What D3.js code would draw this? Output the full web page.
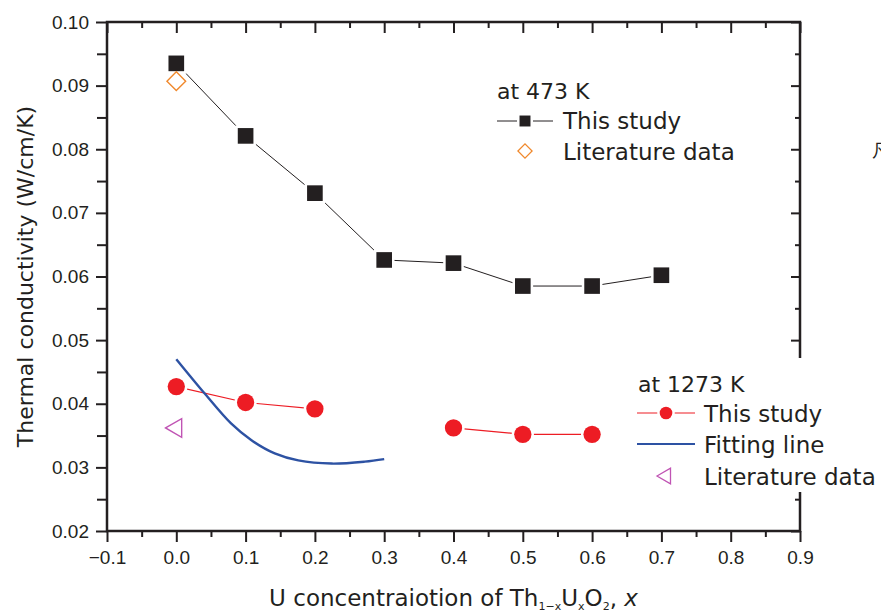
<!DOCTYPE html>
<html>
<head>
<meta charset="utf-8">
<script src="https://cdn.jsdelivr.net/npm/d3@7"></script>
<style>
  body { margin: 0; background: #fff; overflow: hidden; }
  svg { display: block; }
  .tick text { font-family: "Liberation Sans", Arial, sans-serif; font-size: 19px; fill: #231f20; }
  .lbl { font-family: "DejaVu Sans", sans-serif; fill: #231f20; }
</style>
</head>
<body>
<svg width="881" height="613"></svg>
<script>
// 473 K, this study
var x473 = [0, 0.1, 0.2, 0.3, 0.4, 0.5, 0.6, 0.7];
var k473 = [0.0935, 0.0821, 0.0731, 0.0626, 0.0621, 0.0585, 0.0585, 0.0602];
// 473 K, literature
var litX473 = [0];
var litK473 = [0.0907];
// 1273 K, this study (no point at 0.3)
var x1273 = [0, 0.1, 0.2, 0.3, 0.4, 0.5, 0.6];
var k1273 = [0.0427, 0.0402, 0.0392, null, 0.0362, 0.0352, 0.0352];
// 1273 K fitting line
var fitX = [0, 0.041, 0.079, 0.108, 0.142, 0.176, 0.224, 0.272, 0.3];
var fitK = [0.0470, 0.0416, 0.0369, 0.0343, 0.0322, 0.0311, 0.0306, 0.0309, 0.0313];
// 1273 K, literature
var litX1273 = [0];
var litK1273 = [0.0362];

var xTicks = [-0.1, 0, 0.1, 0.2, 0.3, 0.4, 0.5, 0.6, 0.7, 0.8, 0.9];
var yTicks = [0.02, 0.03, 0.04, 0.05, 0.06, 0.07, 0.08, 0.09, 0.10];

var ink = "#231f20",
    red = "#ed1c24",
    orange = "#f0892d",
    blue = "#2d52a3",
    magenta = "#c054b4";

var svg = d3.select("svg");
var plotL = 107, plotR = 800, plotT = 22, plotB = 531;

var x = d3.scaleLinear().domain([-0.1, 0.9]).range([plotL, plotR]);
var y = d3.scaleLinear().domain([0.02, 0.10]).range([plotB, plotT]);

var xMinor = d3.range(-0.05, 0.9, 0.1);
var yMinor = d3.range(0.025, 0.1, 0.01);

function styleAxis(g) {
    g.select(".domain").remove();
    g.selectAll(".tick line").attr("stroke", ink).attr("stroke-width", 2);
}

// bottom axis
svg.append("g").attr("transform", "translate(0," + plotB + ")")
    .call(d3.axisBottom(x).tickValues(xTicks).tickSize(11).tickPadding(9)
        .tickFormat(function (d) { return d3.format(".1f")(d).replace("-", "\u2212"); }))
    .call(styleAxis);
svg.append("g").attr("transform", "translate(0," + plotB + ")")
    .call(d3.axisBottom(x).tickValues(xMinor).tickSize(6).tickFormat(""))
    .call(styleAxis);

// top axis, ticks inward
svg.append("g").attr("transform", "translate(0," + plotT + ")")
    .call(d3.axisBottom(x).tickValues(xTicks).tickSize(11).tickFormat(""))
    .call(styleAxis);
svg.append("g").attr("transform", "translate(0," + plotT + ")")
    .call(d3.axisBottom(x).tickValues(xMinor).tickSize(6).tickFormat(""))
    .call(styleAxis);

// left axis
svg.append("g").attr("transform", "translate(" + plotL + ",0)")
    .call(d3.axisLeft(y).tickValues(yTicks).tickSize(11).tickPadding(7).tickFormat(d3.format(".2f")))
    .call(styleAxis);
svg.append("g").attr("transform", "translate(" + plotL + ",0)")
    .call(d3.axisLeft(y).tickValues(yMinor).tickSize(10).tickFormat(""))
    .call(styleAxis);

// right axis, ticks inward
svg.append("g").attr("transform", "translate(" + plotR + ",0)")
    .call(d3.axisLeft(y).tickValues(yTicks).tickSize(9).tickFormat(""))
    .call(styleAxis);
svg.append("g").attr("transform", "translate(" + plotR + ",0)")
    .call(d3.axisLeft(y).tickValues(yMinor).tickSize(5).tickFormat(""))
    .call(styleAxis);

// frame
svg.append("rect")
    .attr("x", plotL).attr("y", plotT)
    .attr("width", plotR - plotL).attr("height", plotB - plotT)
    .attr("fill", "none").attr("stroke", ink).attr("stroke-width", 2.5);

// axis titles
svg.append("text").attr("class", "lbl")
    .attr("transform", "translate(33," + (plotT + plotB) / 2 + ") rotate(-90)")
    .attr("text-anchor", "middle").attr("font-size", 22)
    .text("Thermal conductivity (W/cm/K)");

var xt = svg.append("text").attr("class", "lbl")
    .attr("x", (plotL + plotR) / 2).attr("y", 606)
    .attr("text-anchor", "middle").attr("font-size", 23);
xt.append("tspan").text("U concentraiotion of Th");
xt.append("tspan").attr("font-size", 11).attr("dy", 4).text("1\u2212x");
xt.append("tspan").attr("dy", -4).text("U");
xt.append("tspan").attr("font-size", 11).attr("dy", 4).text("x");
xt.append("tspan").attr("dy", -4).text("O");
xt.append("tspan").attr("font-size", 11).attr("dy", 4).text("2");
xt.append("tspan").attr("dy", -4).text(", ");
xt.append("tspan").attr("font-style", "italic").text("x");

// markers
function marker(type, size, rot) {
    return function (sel) {
        sel.attr("d", d3.symbol().type(type).size(size)())
            .attr("transform", function (d) {
                return "translate(" + x(d.x) + "," + y(d.k) + ")" + (rot ? " rotate(" + rot + ")" : "");
            });
    };
}
function zip(xs, ks) {
    return xs.map(function (v, i) { return { x: v, k: ks[i] }; });
}

var line = d3.line()
    .defined(function (d) { return d.k != null; })
    .x(function (d) { return x(d.x); })
    .y(function (d) { return y(d.k); });

var d473 = zip(x473, k473),
    d1273 = zip(x1273, k1273);

svg.append("path").datum(d473).attr("d", line)
    .attr("fill", "none").attr("stroke", ink).attr("stroke-width", 1);
svg.append("path").datum(d1273).attr("d", line)
    .attr("fill", "none").attr("stroke", red).attr("stroke-width", 1.2);

svg.append("path").datum(zip(fitX, fitK))
    .attr("d", line.curve(d3.curveCatmullRom))
    .attr("fill", "none").attr("stroke", blue).attr("stroke-width", 2.4);
line.curve(d3.curveLinear);

svg.selectAll(".sq").data(d473).enter().append("path")
    .call(marker(d3.symbolSquare, 245))
    .attr("fill", ink).attr("stroke", "#fff").attr("stroke-width", 5)
    .style("paint-order", "stroke");

svg.selectAll(".dot").data(d1273.filter(function (d) { return d.k != null; })).enter().append("path")
    .call(marker(d3.symbolCircle, 235))
    .attr("fill", red).attr("stroke", "#fff").attr("stroke-width", 5)
    .style("paint-order", "stroke");

svg.selectAll(".dia").data(zip(litX473, litK473)).enter().append("path")
    .call(marker(d3.symbolSquare, 175, 45))
    .attr("fill", "none").attr("stroke", orange).attr("stroke-width", 1.4);

svg.selectAll(".tri").data(zip(litX1273, litK1273)).enter().append("path")
    .call(marker(d3.symbolTriangle, 150, -90))
    .attr("fill", "none").attr("stroke", magenta).attr("stroke-width", 1.4);

// legend, 473 K
var lg1 = svg.append("g");
lg1.append("text").attr("class", "lbl").attr("x", 497).attr("y", 99).attr("font-size", 22).text("at 473 K");
lg1.append("line").attr("x1", 497).attr("x2", 553).attr("y1", 121).attr("y2", 121)
    .attr("stroke", ink).attr("stroke-width", 1);
lg1.append("path").attr("d", d3.symbol().type(d3.symbolSquare).size(120)())
    .attr("transform", "translate(525,121)")
    .attr("fill", ink).attr("stroke", "#fff").attr("stroke-width", 5).style("paint-order", "stroke");
lg1.append("text").attr("class", "lbl").attr("x", 563).attr("y", 129).attr("font-size", 23).text("This study");
lg1.append("path").attr("d", d3.symbol().type(d3.symbolSquare).size(100)())
    .attr("transform", "translate(525,151) rotate(45)")
    .attr("fill", "none").attr("stroke", orange).attr("stroke-width", 1.3);
lg1.append("text").attr("class", "lbl").attr("x", 563).attr("y", 160).attr("font-size", 23).text("Literature data");

// legend, 1273 K (white box over the right axis)
var lg2 = svg.append("g");
lg2.append("rect").attr("x", 630).attr("y", 358).attr("width", 251).attr("height", 134).attr("fill", "#fff");
lg2.append("text").attr("class", "lbl").attr("x", 638).attr("y", 392).attr("font-size", 22).text("at 1273 K");
lg2.append("line").attr("x1", 637).attr("x2", 695).attr("y1", 413).attr("y2", 413)
    .attr("stroke", red).attr("stroke-width", 1.2);
lg2.append("path").attr("d", d3.symbol().type(d3.symbolCircle).size(125)())
    .attr("transform", "translate(666,413)")
    .attr("fill", red).attr("stroke", "#fff").attr("stroke-width", 5).style("paint-order", "stroke");
lg2.append("text").attr("class", "lbl").attr("x", 704).attr("y", 422).attr("font-size", 23).text("This study");
lg2.append("line").attr("x1", 637).attr("x2", 695).attr("y1", 444).attr("y2", 444)
    .attr("stroke", blue).attr("stroke-width", 2.2);
lg2.append("text").attr("class", "lbl").attr("x", 704).attr("y", 453).attr("font-size", 23).text("Fitting line");
lg2.append("path").attr("d", d3.symbol().type(d3.symbolTriangle).size(105)())
    .attr("transform", "translate(666,476) rotate(-90)")
    .attr("fill", "none").attr("stroke", magenta).attr("stroke-width", 1.3);
lg2.append("text").attr("class", "lbl").attr("x", 704).attr("y", 485).attr("font-size", 23).text("Literature data");

// clipped glyph at the right edge of the source picture
svg.append("text").attr("x", 872).attr("y", 157)
    .attr("font-family", "Noto Sans CJK JP").attr("font-size", 18).attr("fill", ink)
    .text("\u51e1\u4f8b");
</script>
</body>
</html>
